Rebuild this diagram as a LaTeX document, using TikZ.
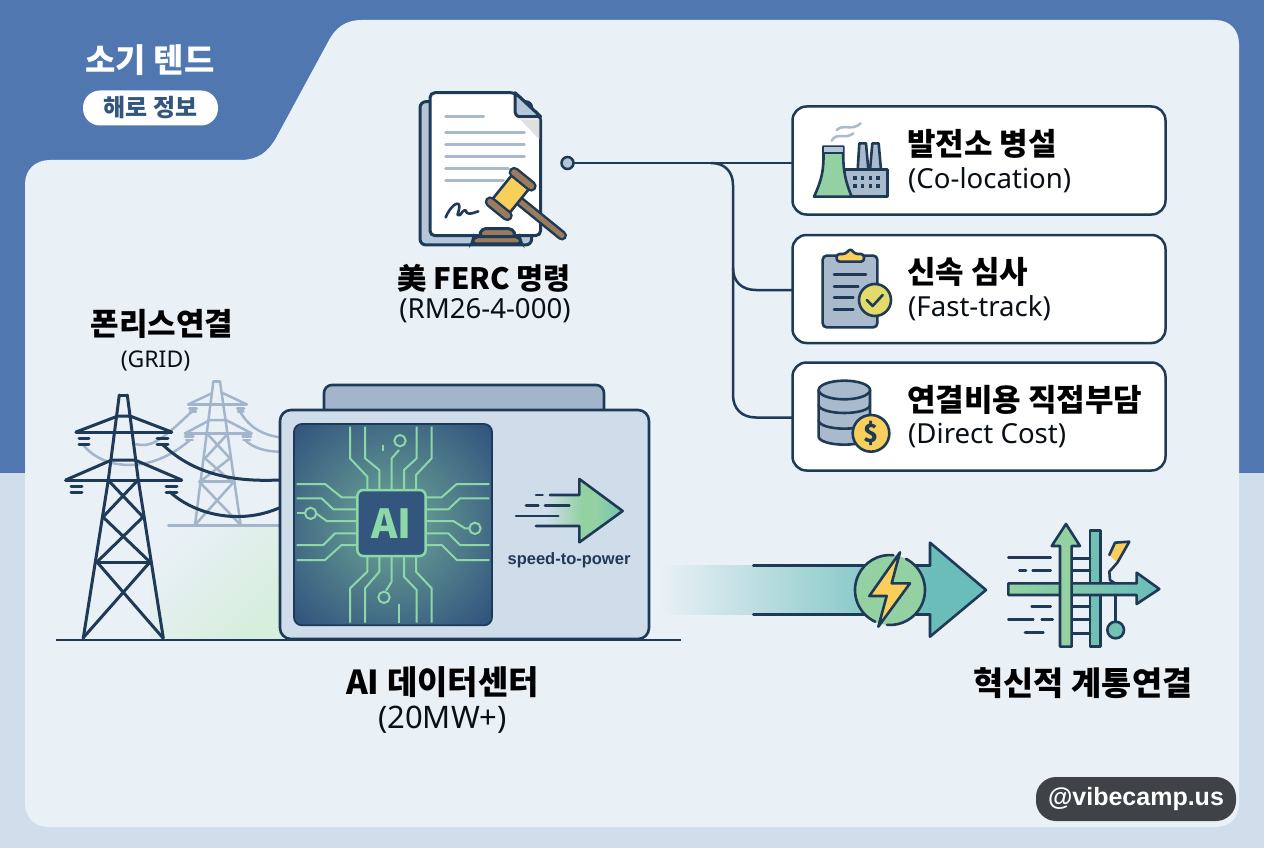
\documentclass[tikz,border=0pt]{standalone}
\usepackage{fontspec}
\setmainfont{Noto Sans CJK KR}
\newfontfamily\latinf{Noto Sans}
\newfontfamily\latinb{Liberation Sans}
\usetikzlibrary{arrows.meta}
\definecolor{bandc}{HTML}{5177B0}
\definecolor{lowc}{HTML}{D0DDEA}
\definecolor{panelc}{HTML}{E9F0F6}
\definecolor{inkc}{HTML}{1F3A57}
\definecolor{slatec}{HTML}{A9BACD}
\definecolor{paleslate}{HTML}{B5C6D8}
\definecolor{ghostc}{HTML}{A3B5CA}
\definecolor{centerc}{HTML}{CFDCEA}
\definecolor{chipbg}{HTML}{33567F}
\definecolor{tracec}{HTML}{8ED8A8}
\definecolor{greenc}{HTML}{93D1A2}
\definecolor{tealc}{HTML}{6BBDBA}
\definecolor{yellowc}{HTML}{F9CF5C}
\definecolor{limec}{HTML}{E3DA6A}
\definecolor{brownc}{HTML}{9A7B5B}
\definecolor{glowc}{HTML}{D6EEDD}
\definecolor{halo}{HTML}{6FA896}
\definecolor{bandmid}{HTML}{B0DAD8}
\definecolor{wmc}{HTML}{3F4347}
\newcommand\fsz[1]{\fontsize{#1}{#1}\selectfont}
\tikzset{
 zm/.style 2 args={x=0.33333pt,y=-0.33333pt,shift={(#1pt,-#2pt)}},
 ink/.style={draw=inkc,line width=2.6pt,line join=round,line cap=round},
 tower/.style={draw=inkc,line width=3pt,line join=round,line cap=round},
 ghost/.style={draw=ghostc,line width=2.5pt,line join=round,line cap=round},
 trace/.style={draw=tracec,line width=2pt,line join=round},
 card/.style={draw=inkc,fill=white,line width=2.5pt,rounded corners=14pt,minimum width=373pt,minimum height=108pt,inner sep=0pt,outer sep=0pt},
 head/.style={font=\fsz{31}\bfseries,text=black,inner sep=0pt},
 sub/.style={font=\latinf\fsz{27.6},text=black!75!inkc,inner sep=0pt},
 docline/.style={draw=slatec,line width=3pt,line cap=round},
 wire/.style={draw=inkc,line width=2.5pt},
}
\begin{document}
\begin{tikzpicture}[x=1pt,y=-1pt]
\useasboundingbox (0,0) rectangle (1264,848);
% backgrounds
\fill[bandc] (0,0) rectangle (1264,473);
\fill[lowc] (0,473) rectangle (1264,848);
\fill[panelc] (25,184) .. controls (25,170) and (35,160) .. (50,160) -- (240,160) .. controls (258,160) and (268,152) .. (276,138) -- (328,42) .. controls (335,28) and (345,20) .. (362,20) -- (1215,20) .. controls (1230,20) and (1239,30) .. (1239,44) -- (1239,803) .. controls (1239,818) and (1230,827) .. (1215,827) -- (49,827) .. controls (35,827) and (25,818) .. (25,803) -- cycle;
% header
\node[font=\fsz{33}\bfseries,text=white,inner sep=0pt] (title) at (150,60) {소기 텐드};
\node[fill=white,rounded corners=17pt,minimum width=135pt,minimum height=35pt,inner sep=0pt,text=chipbg,font=\fsz{24}\bfseries] (pill) at (150.5,108) {해로 정보};

% connector
\node[circle,draw=inkc,fill=paleslate,line width=2.5pt,minimum size=12pt,inner sep=0pt,outer sep=0pt] (dot) at (567.5,163) {};
\node[card] (box1) at (979,160.5) {};
\node[card] (box2) at (979,289) {};
\node[card] (box3) at (979,416.5) {};
\draw[wire] (dot.east) -- (dot.east -| box1.west);
\draw[wire] (711,163) .. controls (725,163) and (733,172) .. (733,185) -- (733,395) .. controls (733,409) and (742,417.5) .. (756,417.5) -- (box3.west |- 0,417.5);
\draw[wire] (733,268) .. controls (733,282) and (742,290) .. (756,290) -- (box2.west |- 0,290);

% card text
\node[head,anchor=west] (t1) at (907,144) {발전소 병설};
\node[sub,anchor=west] (s1) at (908,180) {(Co-location)};
\node[head,anchor=west] (t2) at (907,272) {신속 심사};
\node[sub,anchor=west] (s2) at (908,308) {(Fast-track)};
\node[head,anchor=west] (t3) at (907,400) {연결비용 직접부담};
\node[sub,anchor=west] (s3) at (908,436) {(Direct Cost)};

% document
\begin{scope}[zm={380}{80}]
\draw[draw=inkc,line width=3pt,fill=paleslate,rounded corners=6pt] (120,65) rectangle (455,495);
\draw[draw=inkc,line width=3pt,fill=white,rounded corners=5pt] (150,38) -- (405,38) -- (482,110) -- (482,467) -- (150,467) -- cycle;
\fill[black!12] (420,118) -- (478,118) -- (478,178) -- cycle;
\draw[draw=inkc,line width=3pt,fill=paleslate,line join=round] (405,38) -- (482,110) -- (420,110) .. controls (410,110) and (405,102) .. (405,92) -- cycle;
\draw[docline] (197,111) -- (311,111);
\draw[docline] (197,157) -- (433,157);
\draw[docline] (197,194) -- (433,194);
\draw[docline] (197,230) -- (433,230);
\draw[docline] (197,266) -- (385,266);
\draw[docline] (197,302) -- (370,302);
\draw[ink] (197,412) .. controls (210,380) and (235,360) .. (238,378) .. controls (238,400) and (225,408) .. (240,405) .. controls (250,390) and (258,385) .. (260,398) .. controls (270,405) and (280,398) .. (295,394);
% gavel base
\draw[draw=inkc,line width=3pt,fill=brownc,rounded corners=4pt] (297,470) -- (305,446) -- (398,446) -- (408,470) -- cycle;
\draw[draw=inkc,line width=3pt,fill=brownc,rounded corners=4pt] (275,492) -- (282,470) -- (418,470) -- (425,492) -- cycle;
\end{scope}
% gavel
\begin{scope}[shift={(510.7pt,-194pt)},rotate=-39]
\draw[draw=inkc,line cap=round,line width=10pt] (10,0) -- (66,0);
\draw[draw=brownc,line cap=round,line width=5pt] (10,0) -- (66,0);
\draw[draw=inkc,line width=2.6pt,fill=yellowc] (-11,-16) rectangle (11,16);
\draw[draw=inkc,line cap=round,line width=11pt] (-11,-19) -- (11,-19);
\draw[draw=brownc,line cap=round,line width=6pt] (-11,-19) -- (11,-19);
\draw[draw=inkc,line cap=round,line width=11pt] (-11,19) -- (11,19);
\draw[draw=brownc,line cap=round,line width=6pt] (-11,19) -- (11,19);
\end{scope}
\node[font=\fsz{29.4}\bfseries,text=black,inner sep=0pt] (ferc) at (484,278) {美 FERC 명령};
\node[sub] (ferc2) at (485,311) {(RM26-4-000)};

% factory icon
\begin{scope}[zm={790}{100}]
\draw[draw=slatec,line width=2.5pt,line cap=round] (125,122) .. controls (140,95) and (165,120) .. (190,100);
\draw[draw=slatec,line width=2.5pt,line cap=round] (140,90) .. controls (160,70) and (185,95) .. (212,70);
\draw[ink,fill=slatec] (203,210) -- (208,130) -- (228,130) -- (235,210) -- cycle;
\draw[ink,fill=slatec] (240,210) -- (247,130) -- (266,130) -- (273,210) -- cycle;
\draw[ink,fill=slatec] (165,208) rectangle (292,290);
\draw[ink,fill=greenc] (72,290) .. controls (95,240) and (103,210) .. (100,140) -- (160,140) .. controls (158,210) and (165,240) .. (185,290) -- cycle;
\draw[draw=inkc,line width=2pt] (100,158) -- (160,158);
\fill[paleslate] (102,142) rectangle (158,156);
\foreach \wx in {195,218,241,264}{\foreach \wy in {235,258}{\fill[inkc] (\wx-5,\wy-6) rectangle (\wx+5,\wy+6);}}
% clipboard
\draw[ink,fill=slatec,rounded corners=4pt] (98,467) rectangle (262,682);
\draw[ink,fill=yellowc,rounded corners=3pt] (140,485) -- (222,485) -- (222,462) -- (195,462) -- (181,445) -- (167,462) -- (140,462) -- cycle;
\draw[ink] (132,523) -- (228,523);
\draw[ink] (132,560) -- (205,560);
\draw[ink] (132,593) -- (190,593);
\draw[ink] (132,628) -- (190,628);
\draw[ink,fill=limec] (255,600) circle[radius=48];
\draw[ink] (230,600) -- (248,618) -- (278,585);
% database
\draw[ink,fill=slatec] (86,870) -- (86,1010) arc[start angle=180,end angle=0,x radius=77,y radius=24] -- (240,870);
\draw[ink,fill=slatec] (163,870) ellipse[x radius=77,y radius=28];
\draw[ink] (86,915) arc[start angle=180,end angle=0,x radius=77,y radius=24];
\draw[ink] (86,962) arc[start angle=180,end angle=0,x radius=77,y radius=24];
\draw[ink,fill=yellowc] (243,1000) circle[radius=55];
\node[text=inkc,font=\fsz{25}\bfseries,inner sep=0pt] (dollar) at (243,1000) {\$};
\end{scope}

% green glow behind tower
\shade[left color=panelc,right color=glowc,shading angle=45] (150,527) rectangle (282,638);

% ghost tower
\begin{scope}[zm={50}{375}]
\draw[ghost] (258,208) .. controls (300,215) and (320,210) .. (425,110);
\draw[ghost] (100,210) .. controls (160,285) and (300,300) .. (420,195);
\draw[ghost] (570,110) .. controls (600,160) and (640,180) .. (690,187);
\draw[ghost] (585,195) .. controls (610,220) and (650,230) .. (690,230);
\draw[ghost] (490,20) -- (510,20);
\draw[ghost] (490,20) -- (435,450);
\draw[ghost] (510,20) -- (572,450);
\draw[ghost] (415,88) -- (590,88);
\draw[ghost] (415,88) -- (485,55);
\draw[ghost] (590,88) -- (520,55);
\draw[ghost] (405,175) -- (605,175);
\draw[ghost] (405,175) -- (480,135) -- (528,135) -- (605,175);
\draw[ghost] (448,320) -- (552,320);
\draw[ghost] (475,180) -- (540,250) -- (450,320);
\draw[ghost] (530,180) -- (465,250) -- (545,320);
\draw[ghost] (448,320) -- (572,450);
\draw[ghost] (552,320) -- (435,450);
\draw[ghost] (355,452) -- (690,452);
\draw[ghost] (418,100) -- (440,100); \draw[ghost] (562,100) -- (582,100);
\draw[ghost] (420,110) -- (438,110); \draw[ghost] (564,110) -- (580,110);
\draw[ghost] (405,185) -- (430,185); \draw[ghost] (578,185) -- (603,185);
\draw[ghost] (408,195) -- (428,195); \draw[ghost] (580,195) -- (600,195);
\end{scope}

% data centre
\draw[ink,fill=ghostc,rounded corners=8pt] (324,409) -- (324,385) -- (604,385) -- (604,409);
\draw[ink,fill=centerc,rounded corners=11pt] (280,410) rectangle (649,639);
\begin{scope}[zm={280}{380}]
\begin{scope}
\clip[rounded corners=8pt] (42,132) rectangle (636,736);
\fill[chipbg] (42,132) rectangle (636,736);
\shade[inner color=halo,outer color=chipbg] (335,430) circle[radius=400];
\end{scope}
\draw[draw=inkc,line width=1.8pt,rounded corners=8pt] (42,132) rectangle (636,736);
% top traces
\draw[trace] (210,140) -- (210,235) -- (262,290) -- (262,330);
\draw[trace] (255,140) -- (255,235) -- (298,270) -- (298,330);
\draw[trace] (357,210) -- (335,235) -- (335,330);
\draw[trace] (360,182) circle[radius=17];
\draw[trace] (410,140) -- (410,235) -- (372,270) -- (372,330);
\draw[trace] (455,140) -- (455,235) -- (408,285) -- (408,330);
\draw[trace] (310,195) -- (310,213);
% bottom traces
\draw[trace] (262,530) -- (262,575) -- (210,625) -- (210,728);
\draw[trace] (298,530) -- (298,575) -- (255,625) -- (255,728);
\draw[trace] (335,530) -- (335,605) -- (318,632);
\draw[trace] (312,652) circle[radius=17];
\draw[trace] (372,530) -- (372,590) -- (410,630) -- (410,728);
\draw[trace] (408,530) -- (408,575) -- (455,625) -- (455,728);
\draw[trace] (358,672) -- (358,728);
% left traces
\draw[trace] (50,312) -- (135,312) -- (185,352) -- (232,352);
\draw[trace] (50,355) -- (125,355) -- (160,388) -- (232,388);
\draw[trace] (50,400) -- (75,400);
\draw[trace] (92,400) circle[radius=17];
\draw[trace] (108,400) -- (140,423) -- (232,423);
\draw[trace] (50,495) -- (130,495) -- (165,460) -- (232,460);
\draw[trace] (50,540) -- (135,540) -- (185,495) -- (232,495);
% right traces
\draw[trace] (628,312) -- (530,312) -- (485,352) -- (437,352);
\draw[trace] (628,355) -- (540,355) -- (505,388) -- (437,388);
\draw[trace] (437,423) -- (520,423) -- (555,445) -- (568,445);
\draw[trace] (585,445) circle[radius=17];
\draw[trace] (628,495) -- (540,495) -- (505,460) -- (437,460);
\draw[trace] (628,540) -- (530,540) -- (485,495) -- (437,495);
% chip
\draw[draw=tracec,fill=chipbg,line width=2.5pt,rounded corners=6pt] (232,330) rectangle (437,528);
\node[text=tracec,font=\fsz{40}\bfseries,inner sep=0pt] (ailabel) at (334,430) {AI};
% speed arrow
\begin{scope}
\clip (800,345) -- (898,345) -- (898,297) -- (1028,393) -- (898,487) -- (898,438) -- (800,438) -- cycle;
\shade[left color=centerc,right color=greenc] (800,290) rectangle (905,495);
\fill[greenc] (904,290) rectangle (950,495);
\shade[left color=greenc,right color=tealc!80!greenc] (949,290) rectangle (1030,495);
\end{scope}
\draw[ink] (810,345) -- (898,345) -- (898,297) -- (1028,393) -- (898,487) -- (898,438) -- (768,438);
\draw[ink] (768,345) -- (788,345);
\draw[ink] (738,377) -- (775,377);
\draw[ink] (795,377) -- (868,377);
\draw[ink] (708,408) -- (835,408);
\node[text=inkc,font=\latinb\bfseries\fsz{16.5},inner sep=0pt] (speed) at (867,540) {speed-to-power};
\end{scope}

% main tower
\draw[tower] (119.3,395) -- (127.3,395);
\draw[tower] (119.3,395) -- (108.3,480) -- (83.3,638);
\draw[tower] (127.3,395) -- (138.3,480) -- (163.3,638);
\draw[tower] (76,432) -- (171.7,432);
\draw[tower] (76,432) -- (118,416) -- (130,416) -- (171.7,432);
\draw[tower] (65.7,480) -- (181.7,480);
\draw[tower] (65.7,480) -- (111.7,460) -- (135,460) -- (181.7,480);
\draw[tower] (79,438) -- (89,438); \draw[tower] (79,444) -- (89,444);
\draw[tower] (157,438) -- (168,438); \draw[tower] (157,444) -- (168,444);
\draw[tower] (71,486) -- (82,486); \draw[tower] (71,492) -- (82,492);
\draw[tower] (166,486) -- (177,486); \draw[tower] (166,492) -- (177,492);
\draw[tower] (108,480) -- (143,517) -- (97,562);
\draw[tower] (138,480) -- (103,517) -- (150,562);
\draw[tower] (97,562) -- (150,562);
\draw[tower] (97,562) -- (163,638);
\draw[tower] (150,562) -- (83,638);
% live wires
\draw[tower] (163,445) .. controls (195,475) and (235,482) .. (279,480);
\draw[tower] (170,492) .. controls (195,515) and (240,525) .. (279,508);
% ground
\draw[draw=inkc,line width=2.5pt] (56,640) -- (681,640);

% big arrow
\begin{scope}[zm={660}{520}]
\shade[left color=panelc,middle color=bandmid,right color=tealc] (0,137) rectangle (812,283);
\draw[ink,fill=tealc] (810,137) -- (810,68) -- (978,210) -- (810,350) -- (810,283);
\draw[ink] (280,137) -- (810,137);
\draw[ink] (280,283) -- (810,283);
\fill[greenc] (690,210) circle[radius=105];
\draw[ink] (690,210) ++(-62.7:105) arc[start angle=-62.7,end angle=95,radius=105];
\draw[ink] (690,210) ++(115:105) arc[start angle=115,end angle=275.4,radius=105];
\draw[ink,fill=yellowc] (720,97) -- (628,228) -- (680,228) -- (655,320) -- (750,190) -- (695,190) -- cycle;
% crossing icon
\draw[ink,fill=tealc!85!greenc] (1290,32) rectangle (1322,380);
\foreach \ry in {115,152,260,298,340}{\draw[ink] (1235,\ry) -- (1290,\ry);}
\draw[ink,left color=greenc,right color=tealc] (1045,190) -- (1430,190) -- (1430,158) -- (1498,207) -- (1430,252) -- (1430,225) -- (1045,225) -- cycle;
\draw[ink,fill=greenc] (1200,380) -- (1200,78) -- (1175,78) -- (1218,12) -- (1260,78) -- (1235,78) -- (1235,380) -- cycle;
\draw[ink] (1045,113) -- (1172,113);
\draw[ink] (1078,152) -- (1098,152);
\draw[ink] (1118,152) -- (1172,152);
\draw[ink] (1115,260) -- (1172,260);
\draw[ink] (1045,298) -- (1120,298);
\draw[ink] (1145,298) -- (1178,298);
\draw[ink] (1095,338) -- (1150,338);
\draw[ink] (1367,225) -- (1367,305);
\draw[ink,fill=tealc!80!greenc] (1367,330) circle[radius=25];
\fill[yellowc] (1365,68) -- (1408,65) -- (1372,128) -- (1348,105) -- cycle;
\draw[ink] (1348,105) -- (1365,68) -- (1408,65) -- (1372,128) -- (1348,155) -- (1350,180) -- (1365,190);
\end{scope}

% labels
\node[head] (grid1) at (162,324) {폰리스연결};
\node[font=\latinf\fsz{23},text=black!75!inkc,inner sep=0pt] (grid2) at (155.5,361) {(GRID)};
\node[font=\fsz{33}\bfseries,text=black,inner sep=0pt] (dc1) at (442.5,682) {AI 데이터센터};
\node[font=\latinf\fsz{31},text=black!75!inkc,inner sep=0pt] (dc2) at (442.5,720) {(20MW+)};
\node[font=\fsz{32.8}\bfseries,text=black,inner sep=0pt] (inno) at (1083,683) {혁신적 계통연결};
% watermark
\node[fill=wmc,rounded corners=20pt,minimum width=200pt,minimum height=44pt,inner sep=0pt,text=white,font=\latinb\bfseries\fsz{25}] (wm) at (1136,799) {@vibecamp.us};
\end{tikzpicture}
\end{document}
